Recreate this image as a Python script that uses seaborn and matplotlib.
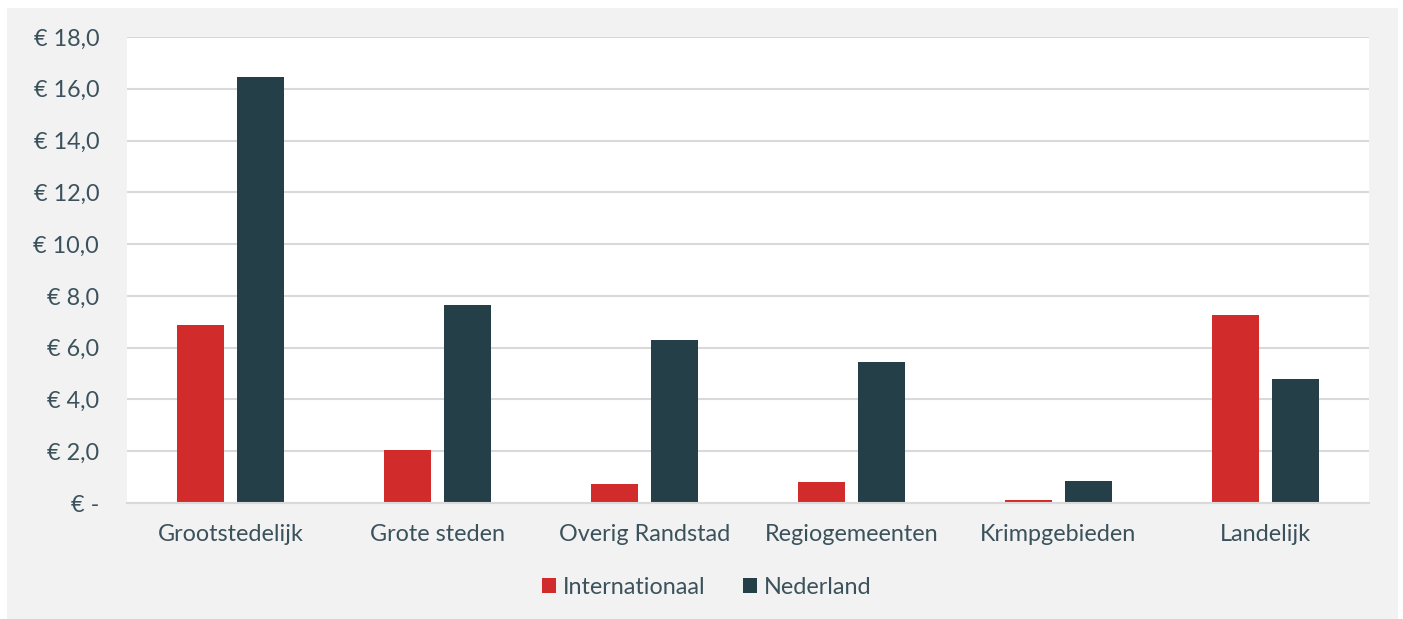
import matplotlib
matplotlib.use("Agg")
import matplotlib.pyplot as plt
from matplotlib.patches import Rectangle
import seaborn as sns
import pandas as pd

categories = ["Grootstedelijk", "Grote steden", "Overig Randstad", "Regiogemeenten", "Krimpgebieden", "Landelijk"]
internationaal = [6.87, 2.05, 0.73, 0.81, 0.12, 7.26]
nederland = [16.45, 7.65, 6.29, 5.44, 0.85, 4.79]
series = ["Internationaal", "Nederland"]
yticks = [0, 2, 4, 6, 8, 10, 12, 14, 16, 18]

df = pd.DataFrame({
    "cat": categories * 2,
    "serie": [series[0]] * len(categories) + [series[1]] * len(categories),
    "val": internationaal + nederland,
})

sns.set_theme(style="white")
plt.rcParams["font.family"] = ["Lato", "DejaVu Sans"]
TXT = "#3b525c"
FS = 16.8

fig = plt.figure(figsize=(14.03, 6.19), dpi=100, facecolor="white")
W, H = 1403, 619
fig.patches.append(Rectangle((7 / W, 0), (1398 - 7) / W, (619 - 8) / H,
                             transform=fig.transFigure, facecolor="#f2f2f2",
                             edgecolor="none", zorder=-10))
ax = fig.add_axes([127 / W, 1 - 503 / H, (1369 - 127) / W, (503 - 37) / H])
ax.set_facecolor("white")

sns.barplot(data=df, x="cat", y="val", hue="serie", order=categories, hue_order=series,
            palette=["#d12b2b", "#243f48"], width=0.58, gap=0.217, ax=ax,
            saturation=1, edgecolor="none", legend=True)

ax.set_ylim(0, 18)
ax.set_xlim(-0.5, len(categories) - 0.5)
ax.set_yticks(yticks)
ax.set_yticklabels(["€ -" if v == 0 else f"€ {v:.1f}".replace(".", ",") for v in yticks])
ax.yaxis.grid(True, color="#d9d9d9", linewidth=1.5)
ax.set_axisbelow(True)
for s in ["top", "right", "left"]:
    ax.spines[s].set_visible(False)
ax.spines["bottom"].set_color("#d9d9d9")
ax.spines["bottom"].set_linewidth(1.5)
ax.tick_params(axis="both", length=0, labelsize=FS, colors=TXT)
ax.tick_params(axis="x", pad=15)
ax.tick_params(axis="y", pad=20)
ax.set_xlabel("")
ax.set_ylabel("")

handles, labels = ax.get_legend_handles_labels()
ax.legend_.remove()
fig.legend(handles, labels, loc="center", bbox_to_anchor=(707 / W, 1 - 587 / H), ncol=2,
           frameon=False, fontsize=FS, labelcolor=TXT, handlelength=0.6, handleheight=0.6,
           handletextpad=0.3, columnspacing=1.6)

fig.savefig("out.png", dpi=100, facecolor="white")
